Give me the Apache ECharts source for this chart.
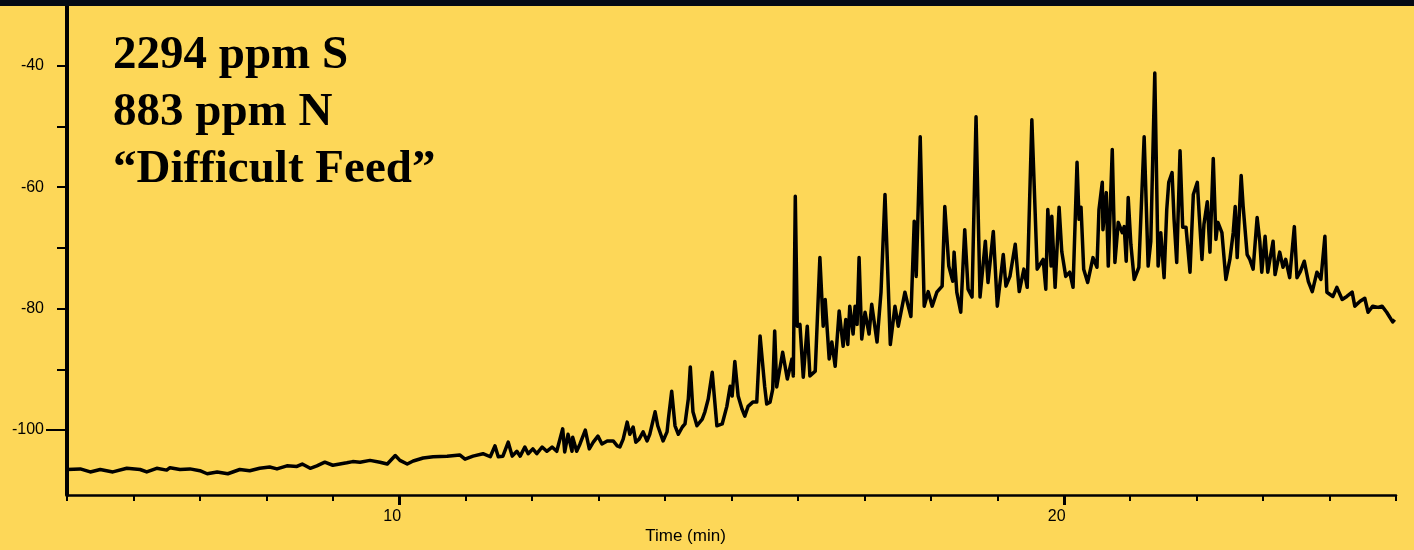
<!DOCTYPE html>
<html>
<head>
<meta charset="utf-8">
<script src="https://cdn.jsdelivr.net/npm/echarts@6/dist/echarts.min.js"></script>
<style>
html,body{margin:0;padding:0;background:#FDD758;}
#chart{width:1414px;height:550px;}
</style>
</head>
<body>
<div id="chart"></div>
<script>
// ---- data ----
const time = [
5.00,5.20,5.35,5.50,5.69,5.90,6.10,6.20,6.35,6.50,6.55,6.70,6.85,7.00,7.11,7.26,7.42,7.60,7.75,7.90,
8.05,8.16,8.31,8.46,8.54,8.66,8.76,8.88,9.00,9.21,9.30,9.41,9.56,9.71,9.82,9.94,10.01,10.12,10.21,10.36,
10.51,10.72,10.91,10.99,11.11,11.26,11.37,11.44,11.49,11.56,11.64,11.70,11.77,11.82,11.89,11.94,12.01,12.07,12.15,12.22,
12.30,12.37,12.46,12.49,12.54,12.60,12.61,12.67,12.72,12.80,12.86,12.92,12.99,13.05,13.13,13.22,13.28,13.32,13.37,13.43,
13.47,13.52,13.56,13.61,13.67,13.73,13.77,13.85,13.89,13.97,14.03,14.05,14.10,14.15,14.20,14.26,14.30,14.35,14.38,14.42,
14.48,14.51,14.56,14.60,14.65,14.71,14.78,14.86,14.93,14.98,15.01,15.05,15.10,15.16,15.20,15.25,15.32,15.38,15.43,15.50,
15.53,15.58,15.62,15.65,15.68,15.77,15.84,15.91,15.93,15.96,15.99,16.03,16.08,16.14,16.18,16.26,16.33,16.38,16.41,16.47,
16.51,16.56,16.62,16.68,16.72,16.75,16.78,16.83,16.86,16.89,16.92,16.96,17.01,17.07,17.11,17.19,17.25,17.31,17.39,17.46,
17.51,17.61,17.66,17.70,17.75,17.78,17.84,17.90,17.96,18.02,18.09,18.17,18.21,18.27,18.33,18.35,18.39,18.45,18.51,18.56,
18.62,18.68,18.74,18.82,18.86,18.94,19.00,19.09,19.13,19.19,19.27,19.33,19.40,19.45,19.52,19.60,19.69,19.73,19.76,19.81,
19.82,19.87,19.93,19.97,20.03,20.09,20.14,20.20,20.23,20.26,20.30,20.36,20.44,20.50,20.53,20.58,20.59,20.64,20.67,20.73,
20.77,20.82,20.88,20.91,20.94,20.97,21.01,21.06,21.13,21.21,21.27,21.31,21.37,21.42,21.46,21.51,21.55,21.58,21.63,21.66,
21.70,21.75,21.79,21.84,21.90,21.95,22.01,22.04,22.08,22.11,22.16,22.20,22.25,22.29,22.32,22.38,22.44,22.50,22.55,22.58,
22.61,22.67,22.70,22.76,22.80,22.85,22.91,22.95,22.98,23.03,23.07,23.15,23.18,23.25,23.30,23.34,23.40,23.47,23.51,23.56,
23.62,23.68,23.74,23.81,23.87,23.93,23.96,24.05,24.11,24.19,24.26,24.34,24.38,24.46,24.53,24.58,24.65,24.73,24.79,24.86,
24.95,24.98
];
const signal = [
-106.5,-106.4,-106.9,-106.5,-106.9,-106.3,-106.5,-106.9,-106.3,-106.6,-106.2,-106.5,-106.4,-106.7,-107.2,-106.9,-107.2,-106.5,-106.7,-106.3,
-106.1,-106.4,-105.9,-106.0,-105.6,-106.3,-105.9,-105.3,-105.8,-105.4,-105.2,-105.3,-105.0,-105.3,-105.6,-104.2,-105.0,-105.6,-105.1,-104.6,
-104.4,-104.3,-104.1,-104.8,-104.3,-103.9,-104.4,-102.6,-104.4,-104.3,-102.0,-104.3,-103.5,-104.3,-102.8,-103.9,-103.1,-103.9,-102.8,-103.5,
-102.8,-103.5,-99.8,-103.6,-100.7,-103.5,-101.2,-103.5,-102.3,-100.0,-103.1,-102.0,-101.0,-102.3,-101.8,-101.8,-102.6,-102.8,-101.5,-98.7,
-100.7,-99.5,-102.0,-101.5,-100.3,-101.8,-100.7,-97.0,-99.3,-101.8,-100.3,-98.2,-93.6,-99.3,-100.7,-99.5,-99.0,-94.9,-89.6,-97.0,
-99.3,-99.5,-98.2,-97.0,-94.9,-90.5,-99.3,-99.0,-96.1,-92.8,-94.4,-88.7,-94.4,-96.6,-97.7,-96.1,-95.4,-95.4,-84.5,-92.9,
-95.7,-95.4,-93.3,-83.7,-92.9,-87.2,-91.6,-88.3,-91.1,-61.5,-82.9,-82.6,-91.3,-82.9,-91.1,-90.3,-71.6,-82.9,-78.5,-88.3,
-85.5,-89.5,-80.4,-86.2,-81.8,-85.9,-79.6,-84.2,-79.6,-82.6,-71.6,-85.0,-80.6,-84.2,-79.3,-85.5,-77.3,-61.2,-85.9,-79.6,
-82.9,-77.3,-79.6,-81.3,-65.6,-74.7,-51.7,-79.6,-77.2,-79.6,-77.3,-76.3,-63.2,-73.0,-75.5,-70.7,-77.3,-80.6,-67.0,-76.8,
-78.1,-48.4,-78.1,-68.9,-75.7,-67.3,-79.6,-71.1,-76.3,-74.7,-69.4,-77.2,-73.5,-76.5,-48.9,-73.5,-71.9,-76.8,-63.7,-73.0,
-64.8,-76.5,-63.3,-70.6,-74.7,-74.0,-76.5,-55.9,-65.3,-63.3,-73.5,-75.7,-71.6,-73.2,-63.7,-59.2,-67.0,-60.9,-73.0,-53.8,
-72.4,-65.8,-67.5,-66.5,-72.2,-61.7,-69.4,-75.2,-73.2,-51.7,-73.0,-68.9,-41.2,-73.0,-67.5,-74.9,-63.7,-59.2,-57.6,-65.3,
-72.4,-54.0,-66.6,-66.6,-74.0,-61.2,-59.2,-64.8,-71.9,-66.1,-62.4,-70.7,-55.3,-68.6,-65.8,-67.5,-75.2,-71.9,-67.5,-63.2,
-71.6,-58.1,-63.2,-71.1,-71.9,-73.5,-65.0,-68.9,-74.0,-68.1,-74.0,-68.9,-74.4,-70.7,-73.2,-71.9,-74.9,-66.5,-74.9,-73.9,
-72.2,-75.5,-77.2,-74.0,-75.2,-68.1,-77.3,-78.0,-76.5,-78.5,-78.0,-77.3,-79.6,-78.8,-78.3,-80.6,-79.6,-79.8,-79.6,-80.6,
-82.2,-81.8
];
const xMajorTicks = [10, 20];
const yTicks = [-100, -90, -80, -70, -60, -50, -40, -30];
const yLabels = [-100, -80, -60, -40];
const annotation = ['2294 ppm S', '883 ppm N', '\u201CDifficult Feed\u201D'];
const xName = 'Time (min)';

// ---- chart ----
const chart = echarts.init(document.getElementById('chart'), null, {renderer: 'canvas'});
const sans = 'Liberation Sans, Arial, sans-serif';
const option = {
  backgroundColor: '#FDD758',
  animation: false,
  title: {
    text: annotation.join('\n'),
    left: 113,
    top: 27,
    padding: 0,
    textStyle: {
      fontFamily: 'Liberation Serif, Times New Roman, serif',
      fontWeight: 'bold',
      fontSize: 47,
      lineHeight: 57,
      color: '#000'
    }
  },
  graphic: [{
    type: 'rect', left: 0, top: 0, z: 100,
    shape: {width: 1414, height: 6},
    style: {fill: '#050a14'}
  }],
  grid: {left: 67, right: 18, top: 5, bottom: 54, containLabel: false},
  xAxis: [{
    type: 'value', min: 5, max: 25, interval: 1, position: 'bottom',
    axisLine: {show: true, lineStyle: {color: '#000', width: 2.5}},
    axisTick: {show: true, length: 6, lineStyle: {color: '#000', width: 2}},
    axisLabel: {show: false},
    splitLine: {show: false},
    name: xName, nameLocation: 'middle', nameGap: 33,
    nameTextStyle: {fontFamily: sans, fontSize: 17, color: '#000', padding: [0, 92, 0, 0]}
  }, {
    type: 'value', min: 5, max: 25, position: 'bottom', offset: 0,
    axisLine: {show: false},
    axisTick: {show: true, length: 10, customValues: xMajorTicks, lineStyle: {color: '#000', width: 3}},
    axisLabel: {show: true, customValues: xMajorTicks, margin: 14, fontFamily: sans, fontSize: 16, color: '#000', padding: [0, 14, 0, 0]},
    splitLine: {show: false}
  }],
  yAxis: [{
    type: 'value', min: -110.7, max: -30, position: 'left',
    axisLine: {show: true, lineStyle: {color: '#000', width: 4}},
    axisTick: {show: true, length: 10, customValues: yTicks, lineStyle: {color: '#000', width: 2}},
    axisLabel: {show: true, customValues: yLabels, margin: 23, fontFamily: sans, fontSize: 16, color: '#000'},
    splitLine: {show: false}
  }, {
    type: 'value', min: -110.7, max: -30, position: 'left', offset: 0,
    axisLine: {show: false},
    axisTick: {show: true, length: 21, customValues: [yLabels[0]], lineStyle: {color: '#000', width: 2}},
    axisLabel: {show: false},
    splitLine: {show: false}
  }],
  series: [{
    type: 'line',
    xAxisIndex: 0, yAxisIndex: 0,
    data: time.map((t, i) => [t, signal[i]]),
    showSymbol: false,
    lineStyle: {color: '#000', width: 3.5, join: 'round'},
    clip: true
  }]
};
chart.setOption(option);
</script>
</body>
</html>
